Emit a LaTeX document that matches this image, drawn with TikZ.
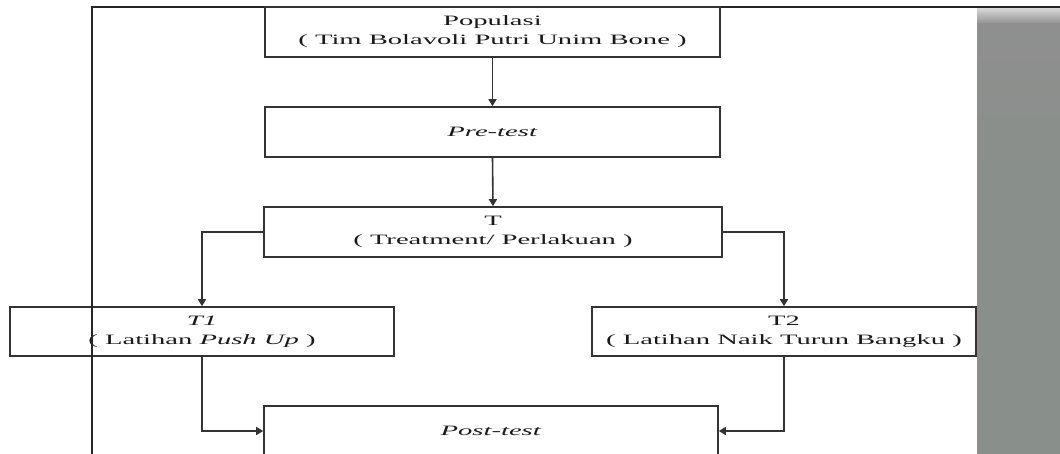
\documentclass[tikz,border=0pt]{standalone}
\usepackage{fontspec}
\setmainfont[FakeStretch=2.0]{Liberation Serif}
\usetikzlibrary{arrows.meta}
\definecolor{bandgrey}{RGB}{143,143,143}
\definecolor{bandgreen}{RGB}{137,143,139}
\begin{document}
\begin{tikzpicture}[x=1pt,y=-1pt,
  box/.style={draw=black!80,line width=1.6pt,minimum width=#1,minimum height=50pt,
    inner sep=0pt,align=center,text=black!90,font=\fontsize{14.3}{19}\selectfont,fill=white},
  box/.default=455pt,
  conn/.style={draw=black!80,line width=1.6pt,-{Triangle[length=7pt,width=8pt]}},
  frame/.style={draw=black!85,line width=1.3pt}]
\useasboundingbox (0,0) rectangle (1060,454);
\clip (0,0) rectangle (1060,454);
\fill[white] (0,0) rectangle (1060,454);
% grey side band
\shade[top color=white!85!black,bottom color=bandgrey] (977,8) rectangle (1060,24);
\shade[top color=bandgrey,bottom color=bandgreen] (977,24) rectangle (1060,170);
\fill[bandgreen] (977,170) rectangle (1060,454);
% frame
\coordinate (ftl) at (92,7);
\coordinate (ftr) at (1060,7);
\coordinate (fbl) at (92,454);
\draw[frame] (ftr) -- (ftl) -- (fbl);
% boxes
\node[box] (pop) at (492.5,32) {Populasi\\( Tim Bolavoli Putri Unim Bone )};
\node[box] (pre) at (492.5,132) {\textit{Pre-test}};
\node[box=458pt] (T) at (493,232) {T\\( Treatment/ Perlakuan )};
\node[box=384pt,minimum height=49pt] (T1) at (202,331.5) {\textit{T1}\\( Latihan \textit{Push Up} )};
\node[box=384pt,minimum height=49pt] (T2) at (784,331.5) {T2\\( Latihan Naik Turun Bangku )};
\node[box=454pt] (post) at (491,431) {\textit{Post-test}};
% frame line crossing T1
\draw[frame] (92,306) -- (92,357);
% connectors
\draw[conn] (pop.south) -- (pre.north);
\draw[conn] (pre.south) -- (T.north);
\draw[conn] (T.west) -| (T1.north);
\draw[conn] (T.east) -| (T2.north);
\draw[conn] (T1.south) |- (post.west);
\draw[conn] (T2.south) |- (post.east);
\end{tikzpicture}
\end{document}
